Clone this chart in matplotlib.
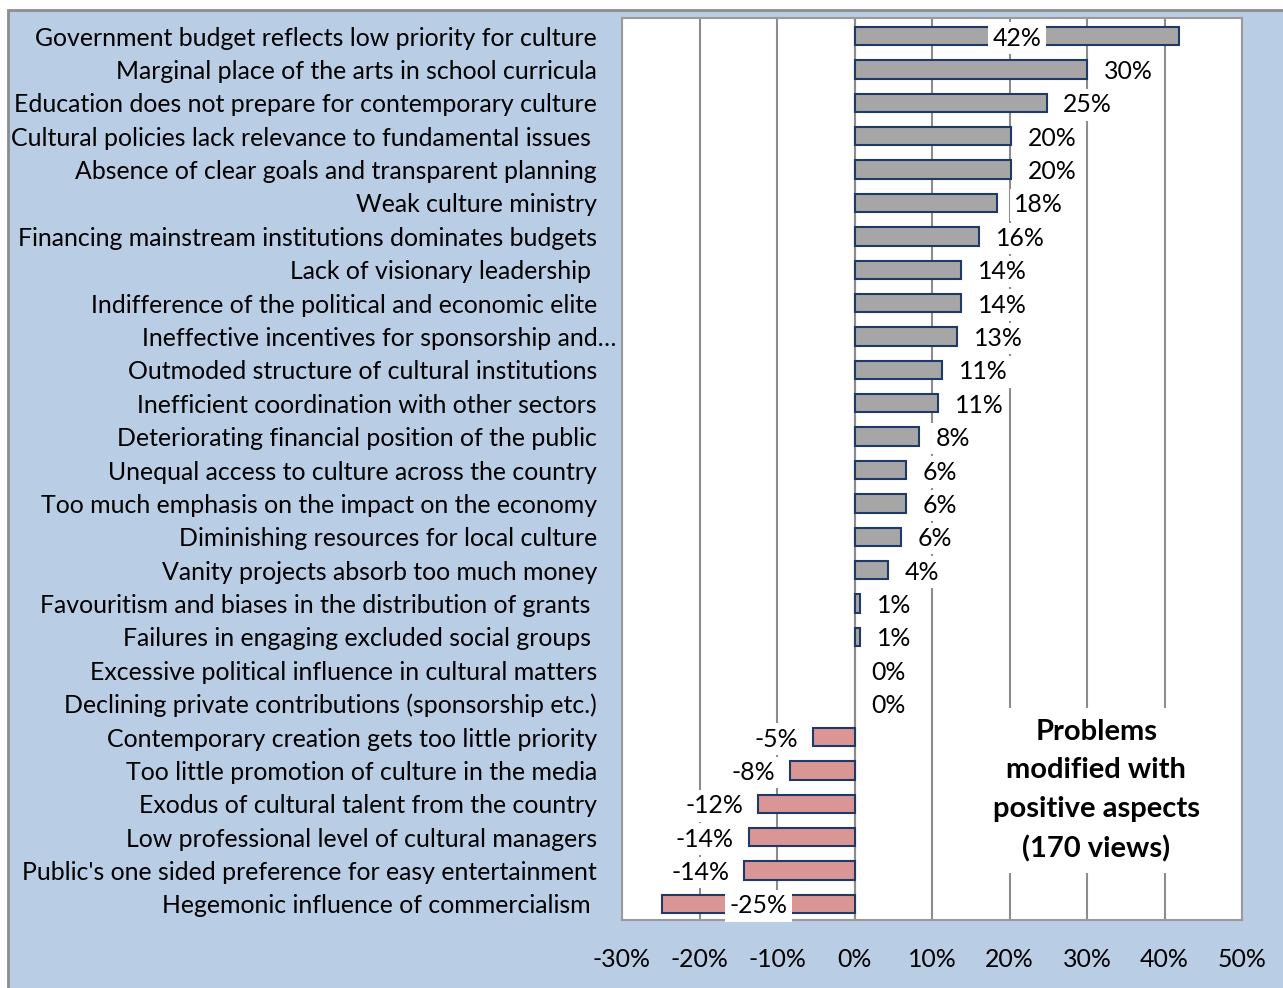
import matplotlib.pyplot as plt
from matplotlib.patches import Rectangle
from matplotlib.transforms import ScaledTranslation

plt.rcParams['font.family'] = ['Lato', 'DejaVu Sans']

# problems, top to bottom
problems = [
    "Government budget reflects low priority for culture",
    "Marginal place of the arts in school curricula",
    "Education does not prepare for contemporary culture",
    "Cultural policies lack relevance to fundamental issues ",
    "Absence of clear goals and transparent planning",
    "Weak culture ministry",
    "Financing mainstream institutions dominates budgets",
    "Lack of visionary leadership ",
    "Indifference of the political and economic elite",
    "Ineffective incentives for sponsorship and\u2026",
    "Outmoded structure of cultural institutions",
    "Inefficient coordination with other sectors",
    "Deteriorating financial position of the public",
    "Unequal access to culture across the country",
    "Too much emphasis on the impact on the economy",
    "Diminishing resources for local culture",
    "Vanity projects absorb too much money",
    "Favouritism and biases in the distribution of grants ",
    "Failures in engaging excluded social groups ",
    "Excessive political influence in cultural matters",
    "Declining private contributions (sponsorship etc.)",
    "Contemporary creation gets too little priority",
    "Too little promotion of culture in the media",
    "Exodus of cultural talent from the country",
    "Low professional level of cultural managers",
    "Public's one sided preference for easy entertainment",
    "Hegemonic influence of commercialism ",
]
# share of views (%) as bar lengths, and the rounded labels shown
share = [41.9, 30.0, 24.8, 20.2, 20.2, 18.4, 16.1, 13.8, 13.8, 13.2, 11.3, 10.8,
         8.3, 6.6, 6.6, 6.0, 4.3, 0.7, 0.7, 0.0, 0.0, -5.3, -8.3, -12.4, -13.6,
         -14.2, -24.8]
shown = [42, 30, 25, 20, 20, 18, 16, 14, 14, 13, 11, 11, 8, 6, 6, 6, 4, 1, 1, 0, 0,
         -5, -8, -12, -14, -14, -25]
ticks = [-30, -20, -10, 0, 10, 20, 30, 40, 50]

bg = '#B9CDE5'
fs = 17.9
fig = plt.figure(figsize=(12.83, 9.88), dpi=100, facecolor='white')
fig.patches.append(Rectangle((8 / 1283, -0.01), 1.0, (978 / 988) + 0.01,
                             transform=fig.transFigure, facecolor=bg,
                             edgecolor='#8C8C8C', linewidth=2, zorder=-5))

ax = fig.add_axes([622 / 1283, 68 / 988, 620 / 1283, 902 / 988])
ax.set_facecolor('white')

y = list(range(len(problems)))
cols = ['#A6A6A6' if v >= 0 else '#D99694' for v in share]
edges = ['#1F3A68' if v != 0 else 'none' for v in share]
ax.barh(y, share, height=0.55, color=cols, edgecolor=edges, linewidth=1.5, zorder=3)

ax.set_xlim(-30, 50)
ax.set_ylim(len(problems) - 0.52, -0.54)
ax.set_xticks(ticks)
ax.set_xticklabels([f"{t}%" for t in ticks], fontsize=fs)
ax.set_yticks(y)
ax.set_yticklabels(problems, fontsize=fs)
ax.tick_params(length=0)
ax.tick_params(axis='y', pad=18)
ax.tick_params(axis='x', pad=20)
ax.grid(axis='x', color='#8C8C8C', linewidth=1.5, zorder=1)
for s in ax.spines.values():
    s.set_color('#9A9A9A')
    s.set_linewidth(1.5)
ax.axvline(0, color='#8C8C8C', linewidth=1.5, zorder=2)

# the truncated label sticks out further to the right
lab = ax.get_yticklabels()[9]
lab.set_transform(lab.get_transform() + ScaledTranslation(0.19, 0, fig.dpi_scale_trans))

box = dict(facecolor='white', edgecolor='none', pad=3)
for yi, v, s in zip(y, share, shown):
    txt = f"{s}%"
    if v > 40 or v < -20:
        ax.text(v / 2, yi, txt, ha='center', va='center_baseline', fontsize=fs,
                bbox=box, zorder=4)
    elif v >= 0:
        ax.annotate(txt, (v, yi), xytext=(12, 0), textcoords='offset points',
                    ha='left', va='center_baseline', fontsize=fs, bbox=box, zorder=4)
    else:
        ax.annotate(txt, (v, yi), xytext=(-11, 0), textcoords='offset points',
                    ha='right', va='center_baseline', fontsize=fs, bbox=box, zorder=4)

ax.text(31.2, 22.6, "Problems\nmodified with\npositive aspects\n(170 views)",
        ha='center', va='center', fontsize=21, fontweight='bold', linespacing=1.6,
        bbox=dict(facecolor='white', edgecolor='none', pad=8), zorder=4)

fig.savefig('out.png', dpi=100, facecolor=fig.get_facecolor())
